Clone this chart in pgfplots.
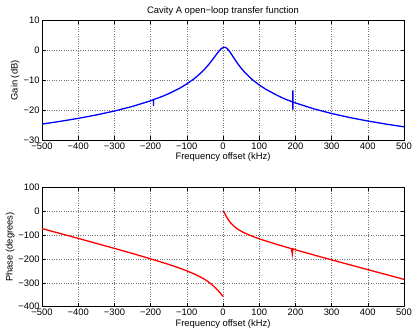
\documentclass[border=0pt]{standalone}
\usepackage{fontspec}
\setmainfont{Liberation Sans}
\usepackage{pgfplots}
\pgfplotsset{compat=1.18}
\begin{document}
\begin{tikzpicture}[font=\fontsize{9.4bp}{11bp}\selectfont]
\path[use as bounding box] (0,0) rectangle (412bp,331bp);
\pgfplotsset{
  mystyle/.style={
    scale only axis, width=362bp, height=119.3bp,
    anchor=south west,
    xmin=-500, xmax=500,
    xtick={-500,-400,...,500},
    xticklabels={−500,−400,−300,−200,−100,0,100,200,300,400,500},
    tick align=inside, tick pos=both,
    major tick length=3.5bp,
    grid=major,
    major grid style={dash pattern=on 0.6bp off 1.8bp, black!55, line width=0.5bp},
    axis line style={black, line width=0.6bp},
    tick style={black, line width=0.5bp},
    xlabel={Frequency offset (kHz)},
    xlabel style={yshift=3bp},
    ylabel style={yshift=-3bp},
    xticklabel style={yshift=1bp},
    yticklabel style={xshift=1bp},
    every axis title/.style={at={(0.5,1)}, anchor=south, yshift=2bp},
  }
}
\begin{axis}[mystyle, at={(42bp,191bp)},
  ymin=-30, ymax=10, ytick={-30,-20,...,10},
  yticklabels={−30,−20,−10,0,10},
  ylabel={Gain (dB)},
  title={Cavity A open−loop transfer function}]
\addplot[blue, line width=1.3bp] coordinates {
(-500,-24.66) (-450,-23.76) (-400,-22.75) (-350,-21.60) (-300,-20.29)
(-250,-18.74) (-200,-16.86) (-194,-16.55) (-192,-16.45) (-192,-18.6) (-192,-16.45)
(-190,-16.36) (-170,-15.5) (-150,-14.47) (-120,-12.66) (-100,-11.20)
(-80,-9.48) (-60,-7.39) (-50,-6.15) (-40,-4.77) (-30,-3.23) (-20,-1.58)
(-10,-0.01) (-5,0.61) (0,1.00) (4,1.10) (8,0.97) (12,0.60) (20,-0.61)
(30,-2.48) (40,-4.28) (50,-5.89) (60,-7.31) (80,-9.66) (100,-11.55)
(120,-13.12) (150,-15.06) (170,-16.2) (190,-17.12) (193,-17.25) (193,-13.4)
(193,-19.8) (193,-17.3) (200,-17.57) (250,-19.52) (300,-21.12) (350,-22.47)
(400,-23.63) (450,-24.66) (500,-25.58)
};
\end{axis}
\begin{axis}[mystyle, at={(42bp,24.3bp)},
  ymin=-400, ymax=100, ytick={-400,-300,...,100},
  yticklabels={−400,−300,−200,−100,0,100},
  ylabel={Phase (degrees)}]
\addplot[red, line width=1.3bp] coordinates {
(-500,-72.6) (-450,-93.1) (-400,-113.7) (-350,-134.5) (-300,-155.6)
(-250,-177.0) (-200,-199.3) (-150,-222.8) (-120,-238.3) (-100,-249.6)
(-80,-262.3) (-60,-277.3) (-50,-286.1) (-40,-296.3) (-30,-308.2)
(-20,-322.3) (-10,-338.6) (-5,-347.5) (0,-356.6)
};
\addplot[red, line width=1.3bp] coordinates {
(1.5,0.3) (4,-7.2) (8,-18.7) (12,-29.2) (16,-38.5) (20,-46.6) (30,-62.6)
(40,-74.4) (53,-86.1) (60,-91.4) (80,-104.2) (100,-115.3) (120,-125.3)
(150,-139.4) (185,-155.0) (189,-156.6) (191.5,-179) (193,-157.3)
(200,-161.5) (250,-182.8) (300,-203.6) (350,-224.2) (400,-244.7)
(450,-265.0) (500,-285.3)
};
\end{axis}
\end{tikzpicture}
\end{document}
